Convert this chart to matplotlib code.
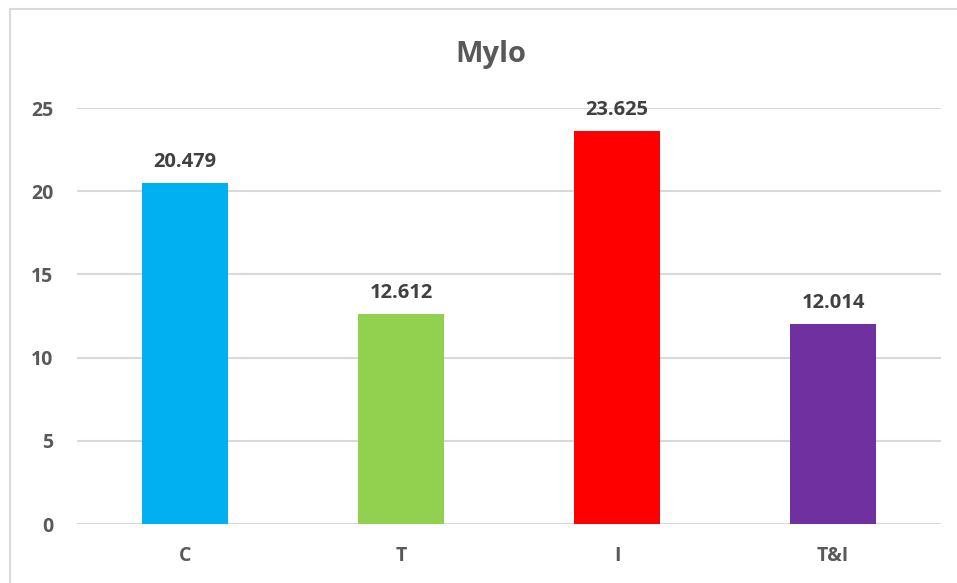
import matplotlib
matplotlib.use("Agg")
import matplotlib.pyplot as plt
from matplotlib.patches import Rectangle

categories = ["C", "T", "I", "T&I"]
values = [20.479, 12.612, 23.625, 12.014]
value_labels = ["20.479", "12.612", "23.625", "12.014"]
colors = ["#00B0F0", "#92D050", "#FF0000", "#7030A0"]
yticks = [0, 5, 10, 15, 20, 25]
title = "Mylo"

plt.rcParams['font.family'] = ['Open Sans', 'DejaVu Sans']
W, H = 957, 583
fig = plt.figure(figsize=(W/100, H/100), dpi=100)
fig.patch.set_facecolor("white")

# chart border
fig.patches.append(Rectangle((9.5/W, -0.1), 1.2, 1.1 - 9.5/H, transform=fig.transFigure,
                             fill=False, edgecolor="#D9D9D9", linewidth=1.5))

ax = fig.add_axes([77/W, 1-524/H, (941-77)/W, (524-108)/H])
x = list(range(len(categories)))
ax.bar(x, values, width=0.395, color=colors, zorder=3)
ax.set_xlim(-0.5, len(categories)-0.5)
ax.set_ylim(0, 25)
ax.set_yticks(yticks)
ax.set_yticklabels([str(t) for t in yticks])
ax.set_xticks(x)
ax.set_xticklabels(categories)
ax.grid(axis="y", color="#D9D9D9", linewidth=1.5, zorder=0)
for s in ax.spines.values():
    s.set_visible(False)
ax.tick_params(length=0, labelsize=14, labelcolor="#595959")
ax.tick_params(axis="y", pad=17)
ax.tick_params(axis="x", pad=16)
for lab in ax.get_xticklabels() + ax.get_yticklabels():
    lab.set_fontweight("bold")
for xi, v, lbl in zip(x, values, value_labels):
    ax.annotate(lbl, (xi, v), xytext=(0, 8), textcoords="offset points",
                ha="center", va="bottom", fontsize=14.5, fontweight="bold", color="#404040")
fig.text(491/W, 1-62/H, title, ha="center", va="baseline",
         fontsize=21, fontweight="bold", color="#595959")
fig.savefig("out.png", dpi=100)
